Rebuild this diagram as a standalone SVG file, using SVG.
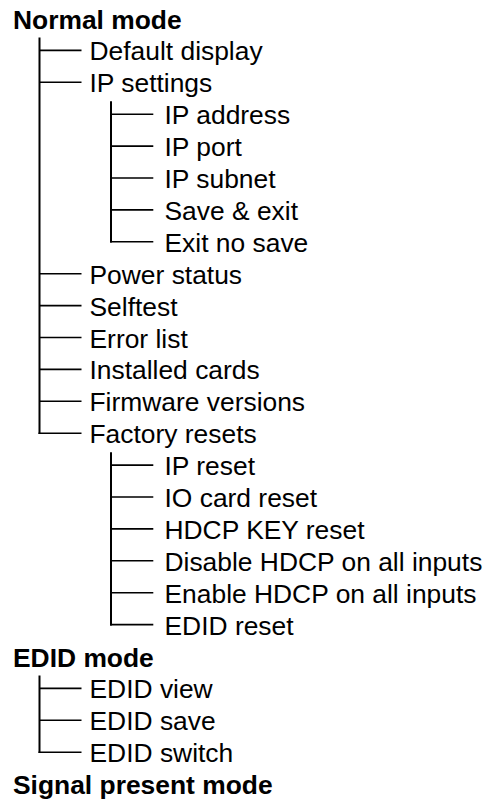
<svg xmlns="http://www.w3.org/2000/svg" width="492" height="801" viewBox="0 0 492 801">
<style>
  text { font-family: "Liberation Sans", Arial, Helvetica, sans-serif; font-size: 26.4px; fill: #000; }
  .h0 { font-weight: bold; }
  .v { stroke: #000; stroke-width: 2; fill: none; }
  .t { stroke: #000; stroke-width: 1.6; fill: none; }
</style>
<rect width="492" height="801" fill="#fff"/>
<g id="connectors">
  <path class="v" d="M39.5,37.5 V434"/>
  <path class="v" d="M111,101.3 V242.6"/>
  <path class="v" d="M111,452.2 V625.4"/>
  <path class="v" d="M39.5,675.5 V753"/>
  <path class="t" d="M39.5,50.4 H81.5 M39.5,82.3 H81.5 M39.5,273.7 H81.5 M39.5,305.6 H81.5 M39.5,337.5 H81.5 M39.5,369.4 H81.5 M39.5,401.3 H81.5 M38.5,433.2 H81.5"/>
  <path class="t" d="M111,114.2 H153.3 M111,146.1 H153.3 M111,178 H153.3 M111,209.9 H153.3 M110,241.8 H153.3"/>
  <path class="t" d="M111,465.1 H153.3 M111,497 H153.3 M111,528.9 H153.3 M111,560.8 H153.3 M111,592.7 H153.3 M110,624.6 H153.3"/>
  <path class="t" d="M39.5,688.4 H81.5 M39.5,720.3 H81.5 M38.5,752.2 H81.5"/>
</g>
<g id="normal-mode"><text class="h0" x="13" y="28.5">Normal mode</text></g>
<g id="default-display"><text x="89.5" y="60.4">Default display</text></g>
<g id="ip-settings"><text x="89.5" y="92.3">IP settings</text></g>
<g id="ip-address"><text x="164.5" y="124.2">IP address</text></g>
<g id="ip-port"><text x="164.5" y="156.1">IP port</text></g>
<g id="ip-subnet"><text x="164.5" y="188">IP subnet</text></g>
<g id="save-exit"><text x="164.5" y="219.9">Save &amp; exit</text></g>
<g id="exit-no-save"><text x="164.5" y="251.8">Exit no save</text></g>
<g id="power-status"><text x="89.5" y="283.7">Power status</text></g>
<g id="selftest"><text x="89.5" y="315.6">Selftest</text></g>
<g id="error-list"><text x="89.5" y="347.5">Error list</text></g>
<g id="installed-cards"><text x="89.5" y="379.4">Installed cards</text></g>
<g id="firmware-versions"><text x="89.5" y="411.3">Firmware versions</text></g>
<g id="factory-resets"><text x="89.5" y="443.2">Factory resets</text></g>
<g id="ip-reset"><text x="164.5" y="475.1">IP reset</text></g>
<g id="io-card-reset"><text x="164.5" y="507">IO card reset</text></g>
<g id="hdcp-key-reset"><text x="164.5" y="538.9">HDCP KEY reset</text></g>
<g id="disable-hdcp"><text x="164.5" y="570.8">Disable HDCP on all inputs</text></g>
<g id="enable-hdcp"><text x="164.5" y="602.7">Enable HDCP on all inputs</text></g>
<g id="edid-reset"><text x="164.5" y="634.6">EDID reset</text></g>
<g id="edid-mode"><text class="h0" x="13" y="666.5">EDID mode</text></g>
<g id="edid-view"><text x="89.5" y="698.4">EDID view</text></g>
<g id="edid-save"><text x="89.5" y="730.3">EDID save</text></g>
<g id="edid-switch"><text x="89.5" y="762.2">EDID switch</text></g>
<g id="signal-present-mode"><text class="h0" x="13" y="794.1">Signal present mode</text></g>
</svg>
